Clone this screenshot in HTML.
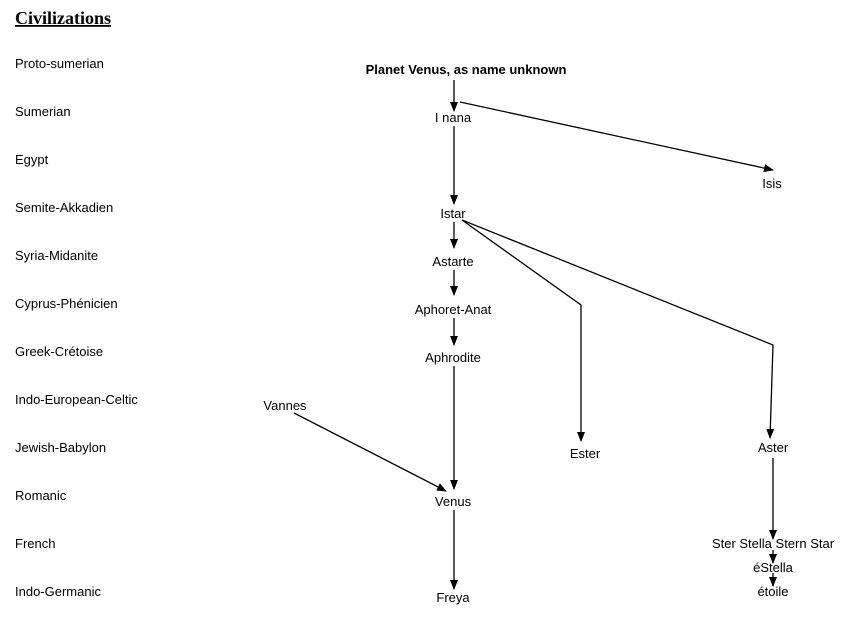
<!DOCTYPE html>
<html><head><meta charset="utf-8"><style>
html,body{margin:0;padding:0;background:#fff;width:850px;height:640px;overflow:hidden}
text{font-family:"Liberation Sans",sans-serif;font-size:13px;fill:#000}
</style></head><body>
<svg width="850" height="640" viewBox="0 0 850 640" xmlns="http://www.w3.org/2000/svg">
<defs><marker id="a" markerWidth="10" markerHeight="8" refX="9" refY="4" orient="auto" markerUnits="userSpaceOnUse"><path d="M0,0 L10,4 L0,8 z" fill="#000"/></marker></defs>
<text x="15" y="24" style="font-family:'Liberation Serif',serif;font-size:18px;font-weight:bold;text-decoration:underline">Civilizations</text>
<g>
<text x="15" y="68">Proto-sumerian</text>
<text x="15" y="116">Sumerian</text>
<text x="15" y="164">Egypt</text>
<text x="15" y="212">Semite-Akkadien</text>
<text x="15" y="260">Syria-Midanite</text>
<text x="15" y="308">Cyprus-Phénicien</text>
<text x="15" y="356">Greek-Crétoise</text>
<text x="15" y="404">Indo-European-Celtic</text>
<text x="15" y="452">Jewish-Babylon</text>
<text x="15" y="500">Romanic</text>
<text x="15" y="548">French</text>
<text x="15" y="596">Indo-Germanic</text>
</g>
<g text-anchor="middle">
<text x="466" y="74" font-weight="bold">Planet Venus, as name unknown</text>
<text x="453" y="122">I nana</text>
<text x="772" y="188">Isis</text>
<text x="453" y="218">Istar</text>
<text x="453" y="266">Astarte</text>
<text x="453" y="314">Aphoret-Anat</text>
<text x="453" y="362">Aphrodite</text>
<text x="285" y="410">Vannes</text>
<text x="585" y="458">Ester</text>
<text x="773" y="452">Aster</text>
<text x="453" y="506">Venus</text>
<text x="773" y="548">Ster Stella Stern Star</text>
<text x="773" y="572">éStella</text>
<text x="773" y="596">étoile</text>
<text x="453" y="602">Freya</text>
</g>
<g stroke="#000" stroke-width="1.3" fill="none">
<line x1="454" y1="80" x2="454" y2="111" marker-end="url(#a)"/>
<line x1="460" y1="102" x2="773" y2="170" marker-end="url(#a)"/>
<line x1="454" y1="126" x2="454" y2="204" marker-end="url(#a)"/>
<line x1="454" y1="222" x2="454" y2="248" marker-end="url(#a)"/>
<line x1="454" y1="270" x2="454" y2="295" marker-end="url(#a)"/>
<line x1="454" y1="318" x2="454" y2="345" marker-end="url(#a)"/>
<line x1="454" y1="366" x2="454" y2="489" marker-end="url(#a)"/>
<line x1="294" y1="413" x2="446" y2="491" marker-end="url(#a)"/>
<line x1="454" y1="510" x2="454" y2="589" marker-end="url(#a)"/>
<polyline points="462,220 581,305 581,441" marker-end="url(#a)"/>
<polyline points="462,220 773,345 770,438" marker-end="url(#a)"/>
<line x1="773" y1="458" x2="773" y2="539" marker-end="url(#a)"/>
<line x1="773" y1="550" x2="773" y2="563" marker-end="url(#a)"/>
<line x1="773" y1="573" x2="773" y2="586" marker-end="url(#a)"/>
</g>
</svg>
</body></html>
